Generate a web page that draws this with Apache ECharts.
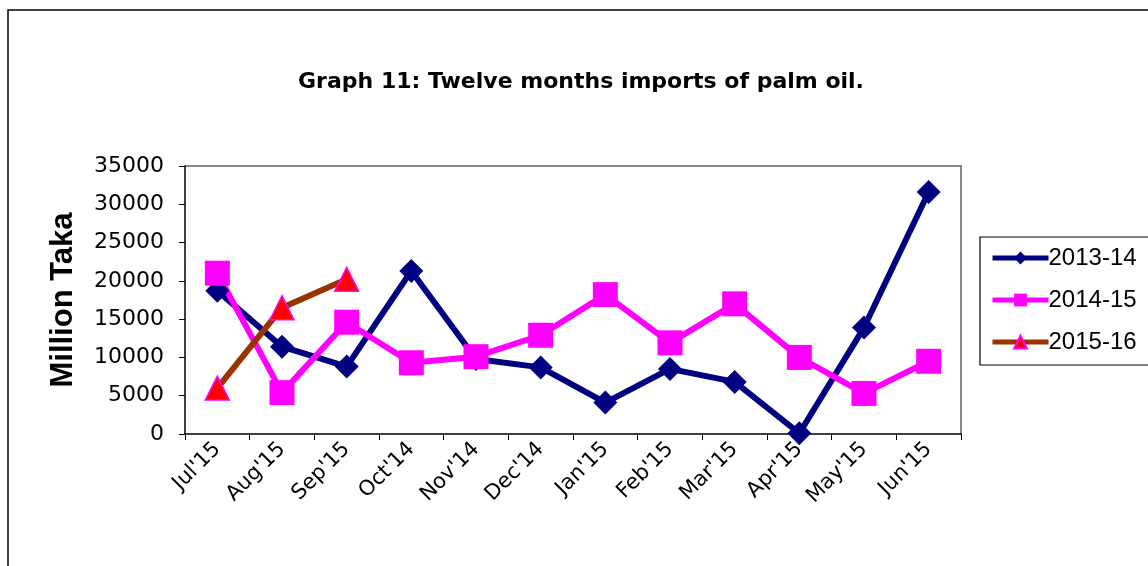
<!DOCTYPE html>
<html>
<head>
<meta charset="utf-8">
<script src="https://cdn.jsdelivr.net/npm/echarts@6/dist/echarts.min.js"></script>
<style>
  html, body { margin: 0; padding: 0; background: #fff; }
  #chart { width: 1148px; height: 566px; }
</style>
</head>
<body>
<div id="chart"></div>
<script>
// months along the x axis
const months = ["Jul'15", "Aug'15", "Sep'15", "Oct'14", "Nov'14", "Dec'14",
  "Jan'15", "Feb'15", "Mar'15", "Apr'15", "May'15", "Jun'15"];

// million taka
const fy1314 = [18700, 11400, 8800, 21300, 9800, 8700, 4100, 8500, 6800, 100, 13900, 31600];
const fy1415 = [21000, 5400, 14600, 9300, 10100, 12900, 18200, 11900, 17000, 10000, 5300, 9500];
const fy1516 = [6000, 16500, 20200];

const yTicks = { min: 0, max: 35000, interval: 5000 };

const chart = echarts.init(document.getElementById('chart'));

const arial = 'Arial, "Liberation Sans", sans-serif';
const wide = '"DejaVu Sans", sans-serif';

chart.setOption({
  backgroundColor: '#fff',
  animation: false,
  textStyle: { fontFamily: arial },
  title: {
    text: 'Graph 11: Twelve months imports of palm oil.',
    left: 576,
    top: 66,
    textAlign: 'center',
    textStyle: { fontSize: 22, fontWeight: 'bold', color: '#000', fontFamily: wide }
  },
  graphic: [{
    type: 'rect',
    shape: { x: 8, y: 10, width: 1300, height: 700 },
    style: { fill: 'none', stroke: '#000', lineWidth: 1.5 },
    silent: true
  }, {
    // grey frame on top/right of the plot area
    type: 'polyline',
    shape: { points: [[185, 166], [961, 166], [961, 434]] },
    style: { stroke: '#888', lineWidth: 2, fill: 'none' },
    silent: true
  }],
  legend: {
    left: 980,
    top: 237,
    orient: 'vertical',
    itemGap: 16,
    itemWidth: 56,
    itemHeight: 16,
    borderColor: '#000',
    borderWidth: 1.2,
    padding: [8, 80, 10, 10],
    lineStyle: { width: 5 },
    textStyle: { fontSize: 24, lineHeight: 26, color: '#000', fontFamily: arial, padding: [0, 0, 0, -5] },
    data: ['2013-14', '2014-15', '2015-16']
  },
  grid: { left: 185, right: 187, top: 166, bottom: 132 },
  xAxis: {
    type: 'category',
    data: months,
    boundaryGap: true,
    axisLine: { lineStyle: { color: '#000', width: 1.5 } },
    axisTick: { show: true, alignWithLabel: false, length: 6, lineStyle: { color: '#000' } },
    axisLabel: { rotate: 45, fontSize: 21, color: '#000', margin: 12, fontFamily: wide, interval: 0 }
  },
  yAxis: {
    type: 'value',
    min: yTicks.min,
    max: yTicks.max,
    interval: yTicks.interval,
    name: 'Million Taka',
    nameLocation: 'middle',
    nameGap: 106,
    nameTextStyle: { fontSize: 31, fontWeight: 'bold', color: '#000', fontFamily: arial },
    axisLine: { show: true, lineStyle: { color: '#000', width: 1.5 } },
    axisTick: { show: true, length: 6, lineStyle: { color: '#000' } },
    splitLine: { show: false },
    axisLabel: { fontSize: 22, color: '#000', margin: 21, fontFamily: wide, formatter: v => String(v) }
  },
  series: [{
    name: '2013-14',
    type: 'line',
    data: fy1314,
    symbol: 'diamond',
    symbolSize: 24,
    lineStyle: { color: '#000080', width: 6 },
    itemStyle: { color: '#000080' }
  }, {
    name: '2014-15',
    type: 'line',
    data: fy1415,
    symbol: 'rect',
    symbolSize: 25,
    lineStyle: { color: '#ff00ff', width: 6 },
    itemStyle: { color: '#ff00ff' }
  }, {
    name: '2015-16',
    type: 'line',
    data: fy1516,
    symbol: 'triangle',
    symbolSize: 24,
    lineStyle: { color: '#993300', width: 6 },
    itemStyle: { color: '#ff0000', borderColor: '#ff00ff', borderWidth: 1.5 }
  }]
});
</script>
</body>
</html>
